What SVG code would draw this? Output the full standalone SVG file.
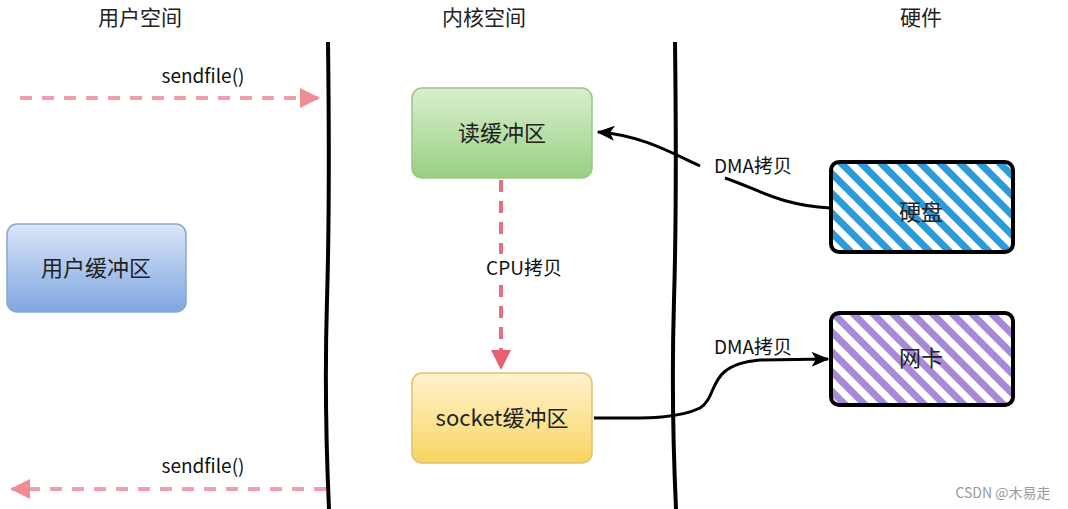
<svg xmlns="http://www.w3.org/2000/svg" width="1068" height="509" viewBox="0 0 1068 509">
<defs>
<style>
.hdr{font-family:"Noto Sans CJK SC","Noto Sans",sans-serif;font-size:21px;fill:#222;text-anchor:middle}
.lbl{font-family:"Noto Sans CJK SC","Noto Sans",sans-serif;font-size:22px;fill:#222;text-anchor:middle}
.sm{font-family:"Noto Sans CJK SC","Noto Sans",sans-serif;font-size:19px;fill:#111;text-anchor:middle}
.div{stroke:#000;stroke-width:4;fill:none}
.dash{stroke:#f0a0a8;stroke-width:4;stroke-dasharray:12 10;fill:none}
.cpu{stroke:#e8707c;stroke-width:4;stroke-dasharray:12 9;fill:none}
.dma{stroke:#000;stroke-width:3;fill:none}
</style>
<linearGradient id="gBlue" x1="0" y1="0" x2="0" y2="1"><stop offset="0" stop-color="#dbe6f8"/><stop offset="1" stop-color="#7ea6e0"/></linearGradient>
<linearGradient id="gGreen" x1="0" y1="0" x2="0" y2="1"><stop offset="0" stop-color="#d9efcf"/><stop offset="1" stop-color="#98cf80"/></linearGradient>
<linearGradient id="gYellow" x1="0" y1="0" x2="0" y2="1"><stop offset="0" stop-color="#fff3cf"/><stop offset="1" stop-color="#f8d560"/></linearGradient>
<pattern id="hBlue" patternUnits="userSpaceOnUse" width="14" height="14" patternTransform="rotate(-45)"><rect width="14" height="14" fill="#fff"/><rect width="7" height="14" fill="#2a9bd8"/></pattern>
<pattern id="hPurple" patternUnits="userSpaceOnUse" width="14" height="14" patternTransform="rotate(-45)"><rect width="14" height="14" fill="#fff"/><rect width="7" height="14" fill="#a68ad8"/></pattern>
<marker id="aPink" viewBox="0 0 10 10" refX="9" refY="5" markerWidth="5" markerHeight="5" orient="auto"><path d="M0,0 L10,5 L0,10 z" fill="#f08c94"/></marker>
<marker id="aRed" viewBox="0 0 10 10" refX="9" refY="5" markerWidth="5" markerHeight="5" orient="auto"><path d="M0,0 L10,5 L0,10 z" fill="#e8606e"/></marker>
<marker id="aBlk" viewBox="0 0 12 10" refX="11" refY="5" markerWidth="6" markerHeight="5" orient="auto"><path d="M0,0 L12,5 L0,10 L3,5 z" fill="#000"/></marker>
</defs>
<rect width="1068" height="509" fill="#fff"/>
<g id="headers">
<text class="hdr" x="140" y="25">用户空间</text>
<text class="hdr" x="484" y="25">内核空间</text>
<text class="hdr" x="921" y="25">硬件</text>
</g>
<g id="dividers">
<path class="div" d="M328,42 Q330,200 327,300 T329,509"/>
<path class="div" d="M675,42 Q677,200 674,300 T676,509"/>
</g>
<g id="user-buffer">
<rect x="7" y="224" width="179" height="88" rx="10" fill="url(#gBlue)" stroke="#8aa6cc" stroke-width="1.5"/>
<text class="lbl" x="96" y="276">用户缓冲区</text>
</g>
<g id="read-buffer">
<rect x="412" y="88" width="180" height="90" rx="10" fill="url(#gGreen)" stroke="#9cc48a" stroke-width="1.5"/>
<text class="lbl" x="502" y="141">读缓冲区</text>
</g>
<g id="socket-buffer">
<rect x="412" y="373" width="180" height="90" rx="10" fill="url(#gYellow)" stroke="#e0c070" stroke-width="1.5"/>
<text class="lbl" x="502" y="426">socket缓冲区</text>
</g>
<g id="disk">
<rect x="831" y="162" width="182" height="90" rx="8" fill="url(#hBlue)" stroke="#000" stroke-width="4"/>
<text class="lbl" x="921" y="220">硬盘</text>
</g>
<g id="nic">
<rect x="831" y="313" width="182" height="92" rx="8" fill="url(#hPurple)" stroke="#000" stroke-width="4"/>
<text class="lbl" x="921" y="366">网卡</text>
</g>
<g id="connectors">
<path class="dash" d="M20,98 L318,98" marker-end="url(#aPink)"/>
<path class="dash" d="M326,489 L12,489" marker-end="url(#aPink)"/>
<path class="cpu" d="M501,180 L501,368" marker-end="url(#aRed)"/>
<path class="dma" d="M830,208 C780,205 760,190 725,178 M700,166 C670,152 640,135 598,132" marker-end="url(#aBlk)"/>
<path class="dma" d="M594,418 C640,418 675,420 700,408 C720,395 705,365 760,360 L828,359" marker-end="url(#aBlk)"/>
</g>
<g id="labels">
<text class="sm" x="203" y="83">sendfile()</text>
<text class="sm" x="203" y="473">sendfile()</text>
<rect x="476" y="254" width="96" height="30" fill="#fff"/>
<text class="sm" x="524" y="275">CPU拷贝</text>
<text class="sm" x="753" y="173">DMA拷贝</text>
<text class="sm" x="753" y="354">DMA拷贝</text>
<text x="1003" y="498" font-family="'Noto Sans CJK SC','Noto Sans',sans-serif" font-size="14" fill="#999" text-anchor="middle">CSDN @木易走</text>
</g>
</svg>
